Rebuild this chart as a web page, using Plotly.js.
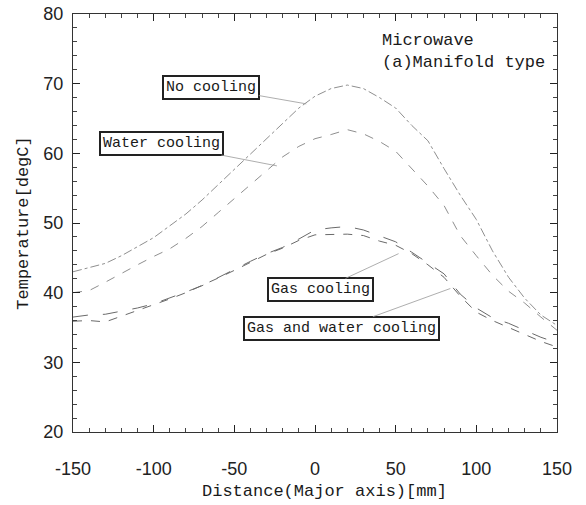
<!DOCTYPE html>
<html>
<head>
<meta charset="utf-8">
<script src="https://cdn.plot.ly/plotly-3.0.1.min.js"></script>
<style>html,body{margin:0;padding:0;background:#fff;}#chart{width:586px;height:505px;}</style>
</head>
<body>
<div id="chart"></div>
<script>
// Distance along major axis [mm]
var distance = [-150,-140,-130,-120,-110,-100,-90,-80,-70,-60,-50,-40,-30,-20,-10,0,10,20,30,40,50,60,70,80,90,100,110,120,130,140,150];
// Temperature [degC]
var noCooling = [43.0,43.6,44.2,45.3,46.6,47.9,49.6,51.3,53.3,55.5,57.7,60.0,62.2,64.4,66.5,68.2,69.3,69.8,69.3,68.0,66.5,64.0,61.8,57.8,54.0,50.5,46.0,42.2,39.2,36.8,35.3];
var waterCooling = [40.0,40.3,41.5,42.8,44.0,45.2,46.3,47.8,49.5,51.5,53.5,55.5,57.5,59.5,61.0,62.1,62.7,63.4,62.8,61.7,60.3,57.8,55.3,52.5,48.2,45.3,42.5,40.2,38.5,36.5,34.6];
var gasCooling = [36.5,36.8,36.9,37.3,37.8,38.4,39.2,40.1,41.0,42.2,43.3,44.5,45.6,46.5,47.7,49.0,49.3,49.5,49.0,48.2,47.3,45.8,44.3,42.7,39.8,37.8,36.4,35.6,34.6,33.6,32.8];
var gasWaterCooling = [35.9,36.0,35.8,36.6,37.5,38.2,39.1,40.0,41.0,42.1,43.2,44.4,45.5,46.4,47.5,48.3,48.4,48.4,48.2,47.4,46.8,45.6,44.0,42.2,39.5,37.2,36.0,35.0,34.0,33.0,32.2];

var xTickVals = [-150,-100,-50,0,50,100,150];
var xTickText = ["-150","-100","-50","0","50","100","150"];
var yTickVals = [20,30,40,50,60,70,80];
var yTickText = ["20","30","40","50","60","70","80"];
var xMinorTicks = [-140,-130,-120,-110,-90,-80,-70,-60,-40,-30,-20,-10,10,20,30,40,60,70,80,90,110,120,130,140];
var yMinorTicks = [22,24,26,28,32,34,36,38,42,44,46,48,52,54,56,58,62,64,66,68,72,74,76,78];

var seriesNames = ["No cooling","Water cooling","Gas cooling","Gas and water cooling"];

var traces = [
  {x: distance, y: noCooling, name: seriesNames[0], mode: "lines", line: {color: "#8f8f8f", width: 1, dash: "dashdot"}},
  {x: distance, y: waterCooling, name: seriesNames[1], mode: "lines", line: {color: "#8f8f8f", width: 1, dash: "dash"}},
  {x: distance, y: gasCooling, name: seriesNames[2], mode: "lines", line: {color: "#6a6a6a", width: 1, dash: "longdash"}},
  {x: distance, y: gasWaterCooling, name: seriesNames[3], mode: "lines", line: {color: "#6a6a6a", width: 1, dash: "dash"}},
  {x: [], y: [], xaxis: "x2", yaxis: "y2", mode: "lines", hoverinfo: "skip", showlegend: false}
];

var boxFont = {family: "Liberation Mono, DejaVu Sans Mono, monospace", size: 15, color: "#1a1a1a"};
function label(text, tx, ty, px, py) {
  return {
    text: text, x: px, y: py, xref: "x", yref: "y",
    ax: tx, ay: ty, axref: "x", ayref: "y",
    showarrow: true, arrowhead: 0, arrowwidth: 0.8, arrowcolor: "#999",
    bordercolor: "#222", borderwidth: 2, borderpad: 2, bgcolor: "rgba(255,255,255,0)",
    font: boxFont
  };
}

var annotations = [
  label(seriesNames[0], -64.6, 69.5, -5.4, 67.1),
  label(seriesNames[1], -94.9, 61.4, -23.6, 58.2),
  label(seriesNames[2], 3.6, 40.4, 51.8, 45.6),
  label(seriesNames[3], 16.3, 34.9, 83.9, 40.6),
  {text: "Microwave<br>(a)Manifold type", x: 40.5, y: 74.6, xref: "x", yref: "y",
   xanchor: "left", yanchor: "middle", align: "left", showarrow: false,
   font: {family: "Liberation Mono, DejaVu Sans Mono, monospace", size: 17, color: "#1a1a1a"}},
  {text: "Distance(Major axis)[mm]", x: 0.52, y: -0.143, xref: "paper", yref: "paper",
   xanchor: "center", yanchor: "middle", showarrow: false,
   font: {family: "Liberation Mono, DejaVu Sans Mono, monospace", size: 17, color: "#1a1a1a"}}
];

var tickFont = {family: "Liberation Sans Narrow, Liberation Sans, Arial, sans-serif", size: 18, color: "#222"};
var titleFont = {family: "Liberation Mono, DejaVu Sans Mono, monospace", size: 17, color: "#1a1a1a"};

var layout = {
  width: 586, height: 505,
  margin: {l: 73, r: 29, t: 14, b: 73},
  paper_bgcolor: "#fff", plot_bgcolor: "#fff",
  showlegend: false,
  xaxis: {
    range: [-150, 150], tickmode: "array", tickvals: xTickVals, ticktext: xTickText,
    ticks: "inside", ticklen: 7, tickcolor: "#222", tickwidth: 1,
    showgrid: false, zeroline: false, showline: true, linecolor: "#333", linewidth: 1,
    mirror: "ticks", tickfont: tickFont, ticklabelstandoff: 20
  },
  yaxis: {
    range: [20, 80], tickmode: "array", tickvals: yTickVals, ticktext: yTickText,
    ticks: "inside", ticklen: 7, tickcolor: "#222", tickwidth: 1,
    showgrid: false, zeroline: false, showline: true, linecolor: "#333", linewidth: 1,
    mirror: "ticks", tickfont: tickFont, ticklabelstandoff: 5,
    title: {text: "Temperature[degC]", font: titleFont, standoff: 10}
  },
  xaxis2: {
    overlaying: "x", anchor: "y2", side: "bottom", range: [-150, 150],
    tickmode: "array", tickvals: xMinorTicks, showticklabels: false,
    ticks: "inside", ticklen: 4, tickcolor: "#444", tickwidth: 1,
    showgrid: false, zeroline: false, showline: false, mirror: "ticks"
  },
  yaxis2: {
    overlaying: "y", anchor: "x2", side: "left", range: [20, 80],
    tickmode: "array", tickvals: yMinorTicks, showticklabels: false,
    ticks: "inside", ticklen: 4, tickcolor: "#444", tickwidth: 1,
    showgrid: false, zeroline: false, showline: false, mirror: "ticks"
  },
  annotations: annotations
};

Plotly.newPlot("chart", traces, layout, {displayModeBar: false, staticPlot: true});
</script>
</body>
</html>
